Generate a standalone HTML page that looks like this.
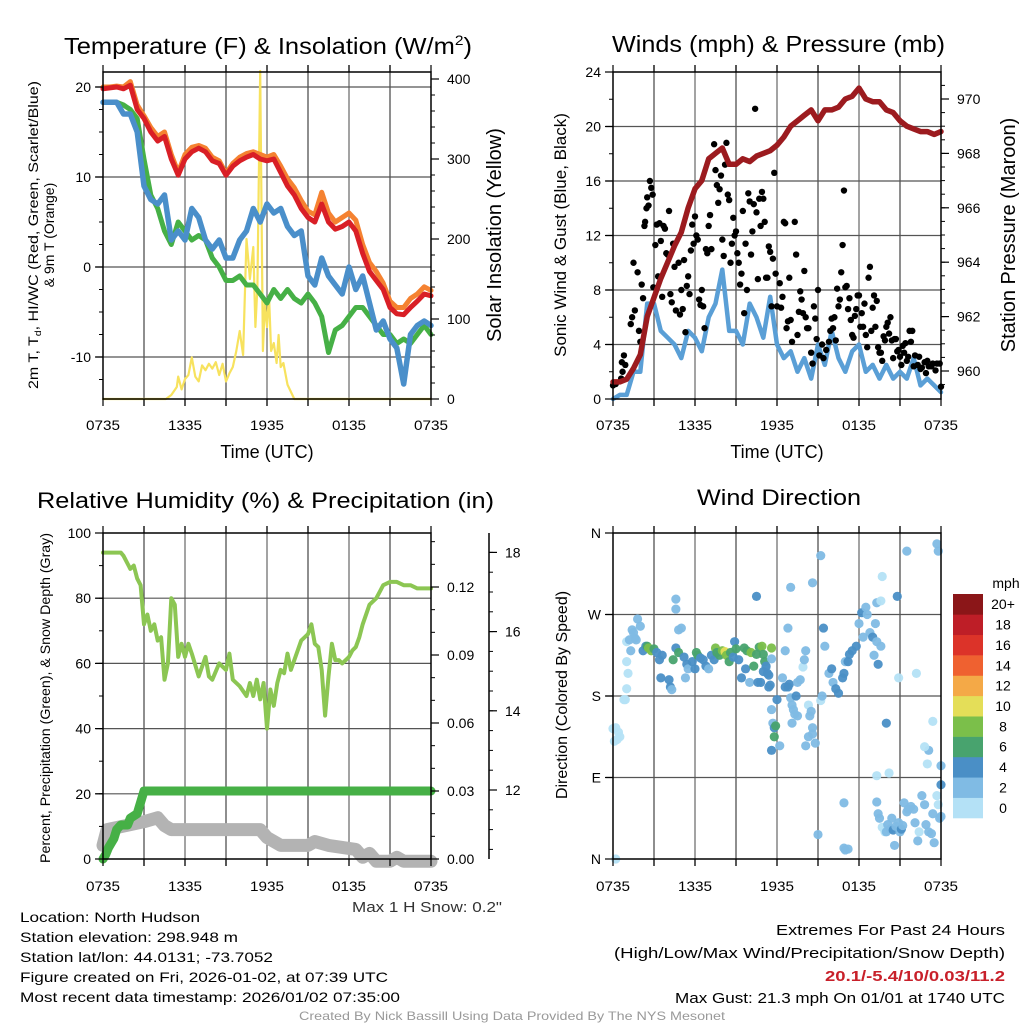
<!DOCTYPE html>
<html><head><meta charset="utf-8"><style>
html,body{margin:0;padding:0;background:#fff;}
svg{display:block;font-family:"Liberation Sans",Arial,sans-serif;}
</style></head><body>
<svg id="fig" width="1024" height="1024" viewBox="0 0 1024 1024" xmlns="http://www.w3.org/2000/svg">
<rect width="1024" height="1024" fill="#fff"/>
<g id="layer"></g>
<text x="64" y="54" font-size="23" textLength="408" lengthAdjust="spacingAndGlyphs">Temperature (F) &amp; Insolation (W/m<tspan font-size="14" dy="-9">2</tspan><tspan dy="9">)</tspan></text>
<text x="612" y="52" font-size="23" textLength="333" lengthAdjust="spacingAndGlyphs">Winds (mph) &amp; Pressure (mb)</text>
<text x="37" y="508" font-size="22" textLength="457" lengthAdjust="spacingAndGlyphs">Relative Humidity (%) &amp; Precipitation (in)</text>
<text x="697" y="505" font-size="22" textLength="164" lengthAdjust="spacingAndGlyphs">Wind Direction</text>
<text transform="translate(38,235) rotate(-90)" text-anchor="middle" font-size="14" textLength="308" lengthAdjust="spacingAndGlyphs">2m T, T<tspan font-size="9" dy="3">d</tspan><tspan dy="-3">, HI/WC (Red, Green, Scarlet/Blue)</tspan></text>
<text transform="translate(54,235) rotate(-90)" text-anchor="middle" font-size="14">&amp; 9m T (Orange)</text>
<text transform="translate(501,235) rotate(-90)" text-anchor="middle" font-size="20">Solar Insolation (Yellow)</text>
<text transform="translate(566,235) rotate(-90)" text-anchor="middle" font-size="17">Sonic Wind &amp; Gust (Blue, Black)</text>
<text transform="translate(1015,235) rotate(-90)" text-anchor="middle" font-size="20">Station Pressure (Maroon)</text>
<text transform="translate(50,698) rotate(-90)" text-anchor="middle" font-size="14" textLength="330" lengthAdjust="spacingAndGlyphs">Percent, Precipitation (Green), &amp; Snow Depth (Gray)</text>
<text transform="translate(567,695) rotate(-90)" text-anchor="middle" font-size="16">Direction (Colored By Speed)</text>
<text x="267" y="458" text-anchor="middle" font-size="18">Time (UTC)</text>
<text x="777" y="458" text-anchor="middle" font-size="18">Time (UTC)</text>
<text x="502" y="912" text-anchor="end" font-size="15" fill="#333" textLength="150" lengthAdjust="spacingAndGlyphs">Max 1 H Snow: 0.2"</text>
<g font-size="14">
<text x="20" y="922" textLength="180" lengthAdjust="spacingAndGlyphs">Location: North Hudson</text>
<text x="20" y="942" textLength="218" lengthAdjust="spacingAndGlyphs">Station elevation: 298.948 m</text>
<text x="20" y="962" textLength="253" lengthAdjust="spacingAndGlyphs">Station lat/lon: 44.0131; -73.7052</text>
<text x="20" y="982" textLength="368" lengthAdjust="spacingAndGlyphs">Figure created on Fri, 2026-01-02, at 07:39 UTC</text>
<text x="20" y="1002" textLength="380" lengthAdjust="spacingAndGlyphs">Most recent data timestamp: 2026/01/02 07:35:00</text>
</g>
<g font-size="15" text-anchor="end">
<text x="1005" y="935" textLength="229" lengthAdjust="spacingAndGlyphs">Extremes For Past 24 Hours</text>
<text x="1005" y="958" textLength="391" lengthAdjust="spacingAndGlyphs">(High/Low/Max Wind/Precipitation/Snow Depth)</text>
<text x="1005" y="981" fill="#c8202a" font-weight="bold" textLength="180" lengthAdjust="spacingAndGlyphs">20.1/-5.4/10/0.03/11.2</text>
<text x="1005" y="1003" textLength="330" lengthAdjust="spacingAndGlyphs">Max Gust: 21.3 mph On 01/01 at 1740 UTC</text>
</g>
<text x="512" y="1020" text-anchor="middle" font-size="12" fill="#999" textLength="426" lengthAdjust="spacingAndGlyphs">Created By Nick Bassill Using Data Provided By The NYS Mesonet</text>
</svg>
<script>
// ---------- data ----------
const xTickLabels = ["0735","1335","1935","0135","0735"];
const tempRed = [19.8,19.9,20,19.8,20.2,17.5,16.5,15,14,14.5,12,10.2,12,12.8,13.2,12.8,11.8,11.5,10.2,11.2,11.8,12.2,12.5,12,11.8,12,10.5,9,8,6.5,5.5,5,7,5,4.2,4.5,5,4,1.5,-0.5,-1.5,-2.5,-4.5,-5.2,-5.3,-4.5,-3.8,-3,-3.2];
const tempOrange = [20,20,20.1,20,20.6,18,16.8,15.5,14.5,15,12.5,10.5,12.5,13.3,13.5,13.2,12.2,11.8,10.4,11.5,12.2,12.6,12.8,12.5,12.2,12.5,11.2,9.8,8.8,7.4,6.2,5.8,8.3,6,5,5.5,6,5.2,2.5,0.5,-0.5,-1.8,-3.8,-4.5,-4.5,-3.5,-3,-2.2,-2.6];
const dewGreen = [18.3,18.3,18.3,18,17.5,16.5,12,8,6.5,4,2.5,5,4,3,3.5,3,1,0,-1.5,-1.5,-1,-2,-2,-3,-4,-2.5,-3.5,-2.5,-3.5,-4,-3,-4,-5.5,-9.5,-7,-6.5,-5.5,-4.5,-4.5,-5.5,-6.5,-7.5,-7.5,-8.5,-8,-8.5,-7.5,-6.5,-7.5];
const windChillBlue = [18.3,18.3,18.3,17,17,15,9,7.5,7,8,3,4,3,6.5,5.5,3,2,3,1,1,3,4,6.5,5,7,6,6.5,4.5,3.5,4,-1,-2,1,-1,-2,-3,0,-2.5,-1,-4,-7,-6,-8,-9,-13,-7.5,-6.5,-6,-6.5];
const solarHours = [0,4.6,5,5.4,5.5,5.75,6,6.25,6.5,6.75,7,7.25,7.5,7.75,8,8.25,8.5,8.75,9,9.25,9.5,9.75,10,10.25,10.5,10.75,11,11.15,11.3,11.5,11.7,11.85,12,12.15,12.3,12.5,12.7,12.85,13,13.2,13.5,14,24];
const solarValues = [0,0,5,15,28,12,25,30,52,28,22,42,36,44,38,46,30,44,22,32,40,60,85,55,200,150,190,90,140,410,60,120,90,130,60,70,45,80,40,45,18,0,0];
const windBlue = [0,0.3,0.3,2,2,7,7,5,4.5,4,3,5,4.5,3.5,6,7,9.5,5,5,4,7,6,4.5,7.5,4,3,3.5,2,3,1.5,4,2.5,5,3,2,3.5,4,2,2.5,1.5,2.5,1.5,2,1.5,3,1,1.5,1,0.5];
const pressure = [959.6,959.6,959.7,960.1,960.6,962.0,962.7,963.4,964.0,964.6,965.1,966.0,966.7,967.0,967.8,968.0,968.2,967.6,967.6,967.8,967.7,967.9,968.0,968.1,968.3,968.6,969.0,969.2,969.4,969.6,969.2,969.6,969.6,969.7,970.0,970.1,970.4,970.0,969.9,969.9,969.6,969.5,969.2,969.0,968.9,968.8,968.8,968.7,968.8];
const gustHours = [0,0.2,0.6,0.7,0.8,0.9,0.65,1.3,1.4,1.5,1.6,1.8,1.9,2,2.1,2.2,2.3,2.35,2.45,2.5,2.6,2.7,2.8,2.9,2.95,3.1,3.2,3.3,3.4,3.5,3.6,3.7,3.8,3.9,4.0,4.1,4.2,4.3,4.4,4.5,4.6,4.8,4.9,5.0,5.1,5.2,5.3,5.4,5.5,5.6,5.7,5.8,5.9,6.0,6.1,6.2,6.3,6.4,6.5,6.6,6.7,6.8,6.9,7.0,7.1,7.2,7.4,7.5,7.6,7.7,7.8,7.9,8.0,8.1,8.2,8.3,8.4,8.5,8.6,8.7,8.8,8.9,9.0,9.1,9.2,9.3,9.4,9.5,9.6,9.7,9.8,9.9,10.0,10.1,10.2,10.3,10.4,10.5,10.6,10.7,10.8,10.9,11.0,11.1,11.2,11.3,11.4,11.5,11.6,11.7,11.8,11.9,12.0,12.2,12.3,12.4,12.5,12.6,12.7,12.8,12.9,13.0,13.1,13.3,13.4,13.5,13.6,13.7,13.8,13.9,14.0,14.1,14.2,14.3,14.5,14.6,14.7,14.8,14.9,15.0,15.1,15.3,15.4,15.6,15.8,15.9,16.0,16.1,16.2,16.3,16.4,16.5,16.6,16.7,16.8,16.9,17.0,17.1,17.2,17.3,17.4,17.5,17.6,17.7,17.8,17.9,18.0,18.1,18.2,18.3,18.4,18.5,18.6,18.7,18.8,18.9,19.0,19.1,19.2,19.3,19.4,19.5,19.6,19.7,19.8,19.9,20.0,20.1,20.2,20.3,20.4,20.5,20.6,20.7,20.8,20.9,21.0,21.1,21.2,21.3,21.4,21.5,21.6,21.7,21.8,21.9,22.0,22.1,22.3,22.4,22.5,22.6,22.8,22.9,23.0,23.1,23.3,23.4,23.6,23.7,23.9,24.0];
const gustValues = [1.0,1.1,1.5,2,3.2,2.5,2.7,5.5,6,10,6.5,9.3,5,4.2,8.4,7.4,12.7,13,14,14.8,14.2,16,15.5,15,8.2,11.3,12.8,9,12.9,11.6,7.5,12.7,12.5,10.7,10.6,13.8,7.7,7.1,11.4,9.7,6.5,10,6.2,8,6.6,10.2,4.9,8.3,9,7.7,10.9,12.8,11.4,13.4,12,11.7,7.3,6.9,8,6.8,5.2,11,10.7,12.7,13.5,11,18.7,16.8,15.7,14.4,15.4,16.4,11.7,10.5,17.2,18.8,15,14.6,10,11.4,13.3,12,12.3,10.7,10,8.4,9.2,13.8,6.3,11.4,8,15.1,14.5,10.6,12.3,14.3,21.3,13.7,8.8,14.7,12.7,15.2,14.7,13,8.9,8.9,11.2,10.8,6.8,10.3,16.6,9.2,6.8,8.5,6.7,7.5,13,12.9,5.2,5.7,8.9,5.8,4.2,13,10.6,4.7,6.4,7.9,7.3,6.3,9.4,6,5.2,5.2,3.4,2.6,6.8,5.9,4.4,8,3.2,4,3,3.6,4.2,5,5.9,5.2,6,4.3,8.1,6.8,7.3,9.3,11.3,15.3,8.2,8.3,6.6,7.4,5.8,4.7,4.5,6.1,6.6,7.6,7.6,5.3,6.3,5.3,7,4.7,3.8,8.9,9.7,5,6.7,7.6,5.3,7.2,3.8,3.4,3.4,2.8,4.6,4.3,5.3,5.6,4.8,6,4.3,3,4.4,4.4,3.5,3.6,3.1,2.5,3.9,3.4,4.1,2.8,3.1,5,4.2,5,2.4,3.2,2.5,3.1,2.2,2.3,2.7,1.9,2.8,2.4,2.4,2.6,2.1,2.6,2.6,0.9];
const rhHours = [0,1,1.3,1.5,2,2.25,2.5,2.75,3,3.25,3.5,3.75,4,4.25,4.5,4.75,5,5.25,5.5,5.75,6,6.25,6.5,7,7.5,7.75,8,8.5,9,9.25,9.5,10,10.5,10.75,11,11.25,11.5,11.75,12,12.25,12.5,12.75,13,13.25,13.5,13.75,14,14.5,15,15.25,15.5,15.75,16,16.25,16.5,16.75,17,17.25,17.5,18,18.25,18.5,18.75,19,19.5,20,20.25,20.5,21,21.5,22,22.5,23,23.5,24];
const rhValues = [94,94,94,93,89,90,86,84,72,75,70,72,67,68,55,60,80,78,62,66,62,66,63,56,62,56,55,60,58,63,55,53,50,54,50,55,49,54,40,52,47,54,58,57,63,58,61,67,69,72,66,65,58,44,56,66,61,61,60,62,64,65,68,72,78,80,82,84,85,85,84,84,83,83,83];
const precipHours = [0,0.2,0.4,0.6,0.8,1,1.3,1.8,2,2.5,3,24];
const precipValues = [0,0.002,0.005,0.007,0.009,0.013,0.015,0.015,0.018,0.02,0.03,0.03];
const snowHours = [0,0.3,3,4,4.5,5,9,11.5,12,13,15,15.5,16.5,18.5,19,19.5,20,21,21.5,22,24];
const snowValues = [10.6,11,11.2,11.3,11.1,11,11,11,10.8,10.6,10.6,10.7,10.6,10.5,10.3,10.4,10.2,10.2,10.3,10.2,10.2];
const dirHours = [0,0.1,0.2,0.4,0.5,0.3,0.2,0.8,0.9,1.0,1.1,1.0,1.3,1.0,1.2,1.4,1.5,1.6,1.8,2.0,1.7,2.2,2.4,2.5,2.6,2.8,3.0,3.2,3.4,3.6,3.5,4.2,4.3,4.1,4.4,4.6,4.8,4.6,4.6,4.8,5.0,5.2,5.4,5.3,5.5,5.8,6.0,6.1,6.2,6.4,6.6,6.8,7.0,7.2,7.4,7.5,7.6,7.8,8.0,8.2,8.3,8.5,8.6,8.8,8.9,9.0,9.2,9.4,9.6,9.8,9.7,10.0,10.1,10.3,10.5,10.7,10.9,11.0,11.2,11.4,11.6,11.0,10.8,10.6,10.5,11.3,11.4,11.1,11.6,11.5,11.2,11.6,11.7,11.8,11.9,11.8,11.6,12.0,12.2,12.4,12.6,12.8,12.9,12.6,12.8,13.0,13.1,13.2,13.3,13.1,13.5,13.7,13.9,14.1,14.0,13.4,13.5,14.3,14.4,14.6,14.5,14.6,14.8,14.3,14.1,15.2,15.3,14.6,15.2,13.0,15.4,15.5,15.8,16.0,16.1,16.3,16.5,16.8,16.9,17.0,17.2,17.3,17.5,17.8,18.0,18.2,18.5,18.6,18.3,18.8,19.0,19.1,19.4,19.6,19.3,19.2,19.3,20.0,16.9,16.9,17.0,17.2,15.0,19.3,19.4,19.5,19.7,19.9,20.0,20.1,20.3,20.4,20.5,20.7,20.6,20.9,21.0,21.1,21.2,21.3,21.5,21.6,21.8,22.0,22.1,22.3,22.4,22.6,22.8,22.9,23.1,23.3,23.4,23.5,23.7,23.8,23.9,24.0,24.0,24.0,23.1,23.0,22.8,23.4,19.3,20.2,20.9,20.8,21.5,23.7,23.8,19.6,19.7,22.2];
const dirDegrees = [144,130,145,140,135,132,0,176,176,188,205,218,230,240,242,253,250,244,265,257,242,230,235,235,233,230,232,228,220,225,200,190,187,198,220,233,228,287,276,253,255,223,215,200,210,218,210,228,225,222,220,213,210,225,220,233,228,225,230,229,225,218,228,223,240,232,220,200,233,230,210,195,228,213,226,234,235,226,212,203,233,207,195,195,290,205,190,218,221,192,213,165,150,145,147,135,120,176,125,200,190,190,193,230,255,178,170,165,160,150,195,198,212,230,220,180,158,170,158,145,163,138,128,135,125,175,180,305,335,300,255,235,205,210,195,188,183,200,205,218,218,226,230,235,260,272,278,270,245,250,245,225,215,235,240,260,283,150,62,12,10,11,27,63,50,45,35,30,30,38,33,45,32,36,15,40,30,33,37,62,52,55,58,55,40,20,30,70,60,38,30,28,50,18,70,60,45,47,82,103,120,105,124,152,92,95,200,290,340,348,340,285,312,205];
const dirSpeeds = [0,0,0,0,0,0,0,0,0,0,0,0,2,0,2,2,2,2,2,2,2,4,4,6,8,8,6,4,4,4,4,4,2,4,6,4,6,2,2,2,2,4,4,2,2,4,4,6,6,4,4,4,2,4,4,8,6,6,8,10,8,6,6,4,4,6,4,4,6,6,4,2,8,6,6,6,8,6,2,4,8,4,4,4,4,4,4,6,2,4,4,2,2,4,6,6,4,4,2,2,4,4,4,2,2,2,2,2,2,2,2,2,0,2,2,4,2,0,2,2,2,2,2,2,2,0,2,2,2,2,4,2,2,4,2,4,4,4,4,2,4,4,4,4,2,4,2,2,2,2,4,2,4,2,2,2,2,4,2,2,2,2,2,2,2,2,0,0,2,2,2,2,4,2,2,2,2,4,2,2,2,2,2,2,2,2,0,2,2,2,2,2,2,2,0,0,2,2,4,2,2,0,0,0,0,0,0,4,2,2,2,0,0,0,0,2];
const speedBinLabels = ["0","2","4","6","8","10","12","14","16","18","20+"];
const speedColors = ["#b4e1f6","#80bbe4","#4a8fc6","#48a36e","#7bbf4a","#e4de58","#f4a947","#ef6130","#dc3329","#be1e27","#8b1618"];

// ---------- helpers ----------
const NS = "http://www.w3.org/2000/svg";
const layer = document.getElementById("layer");
function mk(tag, attrs, parent) {
  const el = document.createElementNS(NS, tag);
  for (const k in attrs) el.setAttribute(k, attrs[k]);
  (parent || layer).appendChild(el);
  return el;
}
function txt(x, y, s, attrs, parent) {
  const el = mk("text", Object.assign({x: x, y: y, "font-size": 14}, attrs || {}), parent);
  el.textContent = s;
  return el;
}
function lineFrom(xs, ys, xf, yf, color, width, name, parent) {
  let d = "";
  for (let i = 0; i < xs.length; i++) d += (i ? "L" : "M") + xf(xs[i]).toFixed(1) + "," + yf(ys[i]).toFixed(1);
  const p = mk("path", {d: d, fill: "none", stroke: color, "stroke-width": width, "stroke-linejoin": "round", "stroke-linecap": "round"}, parent);
  
  
  return p;
}
const halfHours = tempRed.map((v, i) => i * 0.5);

function frame(x0, y0, w, h, hLines, yf, name) {
  const g = mk("g", {});
  
  
  for (let k = 1; k < 8; k++) {
    const x = x0 + k * w / 8;
    mk("line", {x1: x, y1: y0 - 7, x2: x, y2: y0 + h + 7, stroke: k % 2 ? "#444" : "#666", "stroke-width": 1.2}, g);
  }
  hLines.forEach(v => mk("line", {x1: x0 - 7, y1: yf(v), x2: x0 + w, y2: yf(v), stroke: "#555", "stroke-width": 1.2}, g));
  return g;
}
function border(x0, y0, w, h) {
  const r = mk("rect", {x: x0, y: y0, width: w, height: h, fill: "none", stroke: "#000", "stroke-width": 1.5});
  
  
  for (let k = 0; k <= 8; k++) {
    const x = x0 + k * w / 8;
    mk("line", {x1: x, y1: y0 + h, x2: x, y2: y0 + h + 7, stroke: "#000", "stroke-width": 1.2});
    mk("line", {x1: x, y1: y0 - 7, x2: x, y2: y0, stroke: "#000", "stroke-width": 1.2});
  }
}
function xLabels(x0, w, y) {
  xTickLabels.forEach((s, i) => {
    const t = txt(x0 + i * w / 4, y, s, {"text-anchor": "middle", "font-size": 14, "textLength": 34, "lengthAdjust": "spacingAndGlyphs"});
    
    
  });
}
function yAxis(ticks, labels, yf, x, side, minor) {
  ticks.forEach((v, i) => {
    const y = yf(v);
    mk("line", {x1: x, y1: y, x2: x + side * 8, y2: y, stroke: "#000", "stroke-width": 1.2});
    const t = txt(side < 0 ? x - 12 : x + 16, y + 5, labels[i], {"text-anchor": side < 0 ? "end" : "start", "font-size": 14});
    
    
  });
  (minor || []).forEach(v => mk("line", {x1: x, y1: yf(v), x2: x + side * 4, y2: yf(v), stroke: "#000", "stroke-width": 1}));
}
function range(a, b, s) { const r = []; for (let v = a; v <= b + 1e-9; v += s) r.push(+v.toFixed(4)); return r; }

// ---------- panel 1: temperature ----------
{
  const x0 = 103, y0 = 72, w = 328, h = 327;
  const xf = t => x0 + t / 24 * w;
  const yT = v => 267 - v * 9.0;
  const yS = v => 399 - v * 0.8;
  frame(x0, y0, w, h, [20, 10, 0, -10], yT, "temperature-grid");
  lineFrom(solarHours, solarValues, xf, yS, "#f7e25e", 2.2, "solar-insolation-line");
  lineFrom(halfHours, dewGreen, xf, yT, "#46b046", 5, "dewpoint-line");
  lineFrom(halfHours, windChillBlue, xf, yT, "#4a8fca", 5.5, "wind-chill-line");
  lineFrom(halfHours, tempOrange, xf, yT, "#f58231", 5, "temp-9m-line");
  lineFrom(halfHours, tempRed, xf, yT, "#d91f26", 5, "temp-2m-line");
  border(x0, y0, w, h);
  yAxis([20, 10, 0, -10], ["20", "10", "0", "-10"], yT, x0, -1, range(-12.5, 17.5, 2.5));
  yAxis([0, 100, 200, 300, 400], ["0", "100", "200", "300", "400"], yS, x0 + w, 1, range(20, 400, 20));
  xLabels(x0, w, 430);
}
// ---------- panel 2: winds ----------
{
  const x0 = 613, y0 = 72, w = 328, h = 327;
  const xf = t => x0 + t / 24 * w;
  const yW = v => 399 - v * 13.625;
  const yP = v => 371 - (v - 960) * 27.2;
  frame(x0, y0, w, h, [4, 8, 12, 16, 20], yW, "wind-grid");
  lineFrom(halfHours, windBlue, xf, yW, "#5a9fd6", 4.5, "sonic-wind-line");
  const gg = mk("g", {});
  
  
  gustHours.forEach((t, i) => {
    const c = mk("circle", {cx: xf(t), cy: yW(gustValues[i]), r: 3.2, fill: "#000"}, gg);
    
    
  });
  lineFrom(halfHours, pressure, xf, yP, "#9c1b1f", 5.5, "pressure-line");
  border(x0, y0, w, h);
  yAxis([0, 4, 8, 12, 16, 20, 24], ["0", "4", "8", "12", "16", "20", "24"], yW, x0, -1, range(2, 22, 2));
  yAxis([960, 962, 964, 966, 968, 970], ["960", "962", "964", "966", "968", "970"], yP, x0 + w, 1, range(959.5, 970.5, 0.5));
  xLabels(x0, w, 430);
}
// ---------- panel 3: humidity ----------
{
  const x0 = 103, y0 = 533, w = 328, h = 326;
  const xf = t => x0 + t / 24 * w;
  const yR = v => 859 - v * 3.26;
  const yPr = v => 859 - v / 0.03 * 68;
  const ySn = v => 790 - (v - 12) * 39.6;
  frame(x0, y0, w, h, [20, 40, 60, 80], yR, "humidity-grid");
  lineFrom(snowHours, snowValues, xf, ySn, "#b3b3b3", 13, "snow-depth-line");
  lineFrom(precipHours, precipValues, xf, yPr, "#46b046", 9, "precipitation-line");
  lineFrom(rhHours, rhValues, xf, yR, "#8cc653", 4, "relative-humidity-line");
  border(x0, y0, w, h);
  yAxis([0, 20, 40, 60, 80, 100], ["0", "20", "40", "60", "80", "100"], yR, x0, -1, range(10, 90, 10));
  yAxis([0, 0.03, 0.06, 0.09, 0.12], ["0.00", "0.03", "0.06", "0.09", "0.12"], yPr, x0 + w, 1, range(0.01, 0.14, 0.01));
  const ax = mk("line", {x1: 489, y1: 533, x2: 489, y2: 859, stroke: "#000", "stroke-width": 1.5});
  
  
  yAxis([12, 14, 16, 18], ["12", "14", "16", "18"], ySn, 489, 1, range(10.5, 18.5, 0.5).filter(v => ySn(v) >= 533 && ySn(v) <= 859));
  xLabels(x0, w, 891);
}
// ---------- panel 4: wind direction ----------
{
  const x0 = 613, y0 = 533, w = 328, h = 326;
  const xf = t => x0 + t / 24 * w;
  const yD = d => 859 - d / 360 * h;
  frame(x0, y0, w, h, [90, 180, 270], yD, "direction-grid");
  const g = mk("g", {});
  
  
  dirHours.forEach((t, i) => {
    const bin = Math.min(10, Math.max(0, Math.round(dirSpeeds[i] / 2)));
    const c = mk("circle", {cx: xf(t), cy: yD(dirDegrees[i]), r: 4.6, fill: speedColors[bin], "fill-opacity": 0.95}, g);
    
    
  });
  border(x0, y0, w, h);
  yAxis([0, 90, 180, 270, 360], ["N", "E", "S", "W", "N"], yD, x0, -1, []);
  xLabels(x0, w, 891);
  // colorbar
  const cb = mk("g", {});
  
  
  const bh = (818 - 594) / speedColors.length;
  speedColors.forEach((c, i) => {
    const yb = 818 - (i + 1) * bh;
    mk("rect", {x: 953, y: yb, width: 30, height: bh + 0.3, fill: c}, cb);
    const t = txt(1003, yb + bh / 2 + 5, speedBinLabels[i], {"text-anchor": "middle", "font-size": 14}, cb);
    
    
  });
  const u = txt(1006, 588, "mph", {"text-anchor": "middle", "font-size": 14}, cb);
  
  
}
</script>
</body></html>
